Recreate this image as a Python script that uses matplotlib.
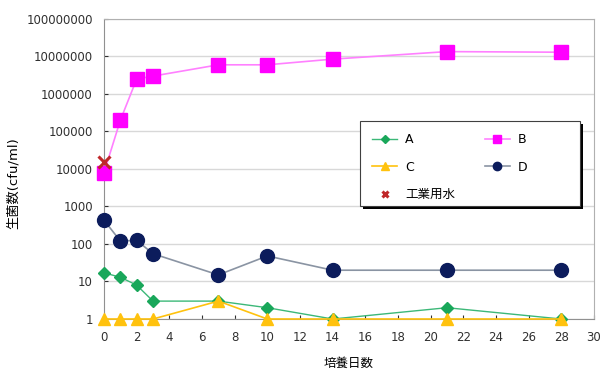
import matplotlib
matplotlib.use("Agg")
import matplotlib.pyplot as plt
import matplotlib.transforms as mtransforms
from matplotlib.patches import Rectangle
from matplotlib.ticker import FixedLocator, FixedFormatter

plt.rcParams['font.family'] = ['DejaVu Sans', 'Noto Sans CJK JP']

days = [0, 1, 2, 3, 7, 10, 14, 21, 28]
count_a = [17, 13, 8, 3, 3, 2, 1, 2, 1]
count_b = [8000, 200000, 2500000, 3000000, 6000000, 6000000, 8500000, 13500000, 13000000]
count_c = [1, 1, 1, 1, 3, 1, 1, 1, 1]
count_d = [430, 120, 125, 55, 15, 48, 20, 20, 20]
water_day = [0]
water_count = [15000]

yticks = [10 ** k for k in range(9)]
ylabels = [str(v) for v in yticks]
xticks = list(range(0, 31, 2))

fig = plt.figure(figsize=(6.03, 3.76), dpi=100)
ax = fig.add_axes([0.1725, 0.1516, 0.8125, 0.7979])

ax.set_yscale("log")
ax.set_ylim(1, 1e8)
ax.set_xlim(0, 30)
ax.yaxis.set_major_locator(FixedLocator(yticks))
ax.yaxis.set_major_formatter(FixedFormatter(ylabels))
ax.yaxis.set_minor_locator(FixedLocator([]))
ax.set_xticks(xticks)

ax.grid(axis="y", color="#d8d8d8", linewidth=1.0)
ax.set_axisbelow(True)
for side in ["top", "right"]:
    ax.spines[side].set_color("#b0b0b0")
for side in ["left", "bottom"]:
    ax.spines[side].set_color("#909090")
ax.tick_params(axis="both", labelsize=8.5, colors="#303030", length=3,
               direction="in", width=0.8)
ax.tick_params(axis="x", pad=9)
ax.tick_params(axis="y", pad=8)

la, = ax.plot(days, count_a, color="#3cb878", lw=1.0, marker="D", ms=6.5,
              mfc="#19a75a", mec="#19a75a", clip_on=False, zorder=4, label="A")
lb, = ax.plot(days, count_b, color="#ff80ff", lw=1.2, marker="s", ms=10,
              mfc="#ff00ff", mec="#ff00ff", clip_on=False, zorder=3, label="B")
lc, = ax.plot(days, count_c, color="#ffc20e", lw=1.2, marker="^", ms=8.5,
              mfc="#ffc20e", mec="#ffc20e", clip_on=False, zorder=5, label="C")
ld, = ax.plot(days, count_d, color="#8a94a3", lw=1.2, marker="o", ms=10,
              mfc="#0c1c5c", mec="#0c1c5c", clip_on=False, zorder=3, label="D")
lw, = ax.plot(water_day, water_count, ls="none", marker="x", ms=8, mew=2.2,
              color="#c0282a", clip_on=False, zorder=6, label="工業用水")

# legend box with a hard black drop shadow
box = (0.522, 0.377, 0.449, 0.283)
shadow_tr = mtransforms.offset_copy(ax.transAxes, fig=fig, x=3, y=-3, units="dots")
ax.add_patch(Rectangle(box[:2], box[2], box[3], transform=shadow_tr,
                       facecolor="black", edgecolor="none", zorder=7))
ax.add_patch(Rectangle(box[:2], box[2], box[3], transform=ax.transAxes,
                       facecolor="white", edgecolor="#404040", lw=0.8, zorder=8))

leg = ax.legend([la, lc, lw, lb, ld], ["A", "C", "工業用水", "B", "D"],
                ncol=2, loc="upper left", bbox_to_anchor=(0.535, 0.64),
                prop={"size": 9}, frameon=False, markerscale=0.6,
                handlelength=2.0, columnspacing=2.4, borderpad=0.0,
                labelspacing=1.15, handletextpad=0.6)
leg.set_zorder(9)

ax.set_ylabel("生菌数(cfu/ml)", fontsize=9.5)
ax.yaxis.set_label_coords(-0.172, 0.453)
ax.set_xlabel("培養日数", fontsize=9, labelpad=9)

fig.savefig("out.png", dpi=100)
